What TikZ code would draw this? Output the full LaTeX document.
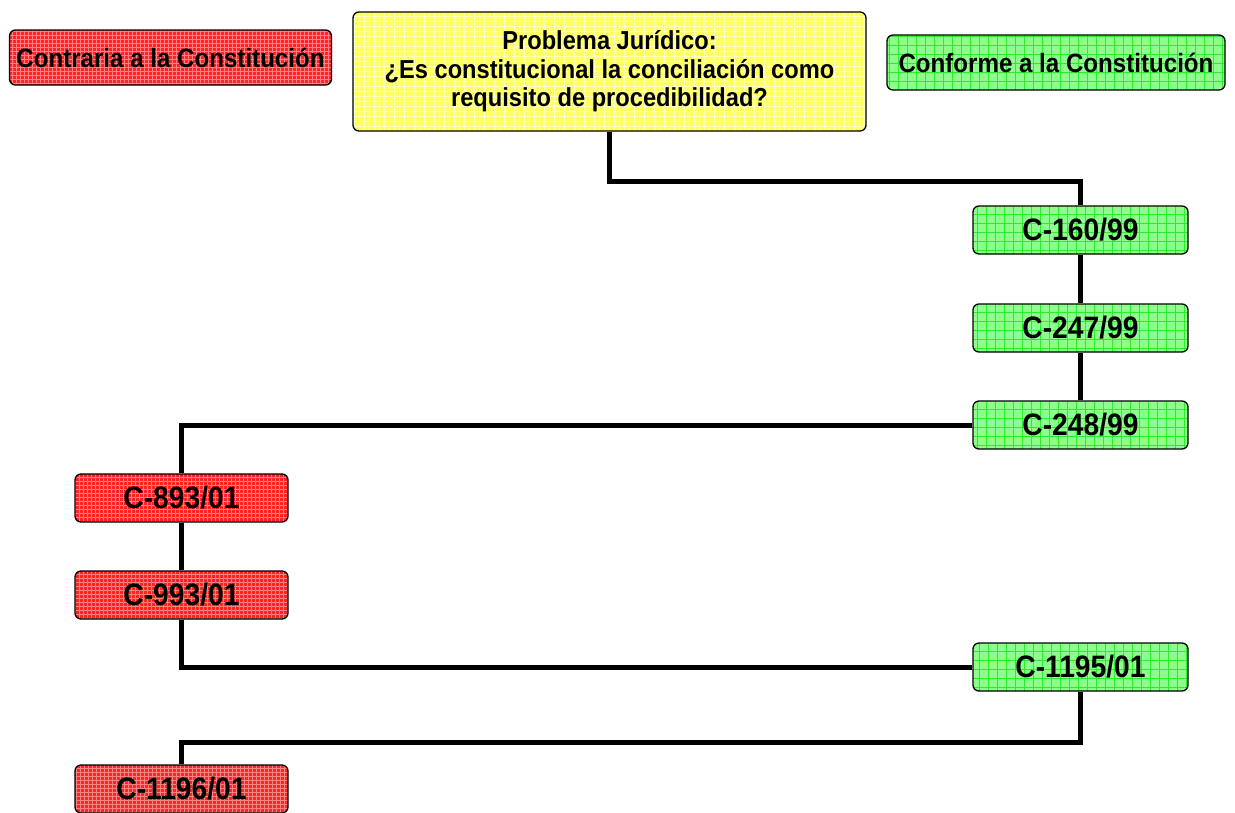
\documentclass[tikz,border=0pt]{standalone}
\usepackage{fontspec}
\setmainfont{Liberation Sans}
\newfontfamily\condfont[FakeStretch=0.91]{Liberation Sans}
\definecolor{redfill}{RGB}{255,35,35}
\definecolor{redgrid}{RGB}{255,130,130}
\definecolor{greenfill}{RGB}{140,255,140}
\definecolor{greengrid}{RGB}{45,235,45}
\definecolor{yellowfill}{RGB}{255,255,95}
\definecolor{yellowgrid}{RGB}{255,255,190}
\tikzset{
  box/.style={draw=black, line width=1.3pt, rounded corners=6pt, align=center, inner sep=0pt},
  gridfill/.style 2 args={path picture={\draw[#1, line width=#2] (path picture bounding box.south west) grid[step=5pt] (path picture bounding box.north east);}},
  redbox/.style={box, fill=redfill, path picture={\draw[redgrid, line width=0.7pt] ([xshift=-2pt,yshift=-2pt]path picture bounding box.south west) grid[step=4pt] (path picture bounding box.north east);}},
  greenbox/.style={box, fill=greenfill, path picture={\draw[greengrid, line width=0.8pt] ([xshift=-3pt,yshift=-3pt]path picture bounding box.south west) grid[step=9pt] (path picture bounding box.north east);}},
  yellowbox/.style={box, fill=yellowfill, path picture={\draw[yellowgrid, line width=0.8pt] ([xshift=-2pt,yshift=-2pt]path picture bounding box.south west) grid[step=5pt] (path picture bounding box.north east);}},
  casebox/.style={minimum height=48pt, font=\condfont\bfseries\fontsize{31}{34}\selectfont},
  legend/.style={minimum height=55pt, font=\condfont\bfseries\fontsize{26.5}{28}\selectfont},
  conn/.style={draw=black, line width=5pt},
}
\begin{document}
\begin{tikzpicture}[x=1pt,y=-1pt]
\useasboundingbox (0,0) rectangle (1235,812);
\node[redbox,legend,minimum width=322pt] (leg1) at (170.5,57.5) {Contraria a la Constitución};
\node[greenbox,legend,minimum width=338pt] (leg2) at (1056,62.5) {Conforme a la Constitución};
\node[yellowbox,minimum width=513pt,minimum height=119pt,font=\condfont\bfseries\fontsize{26}{28.5}\selectfont] (prob) at (609.5,71.5)
  {Problema Jurídico:\\¿Es constitucional la conciliación como\\requisito de procedibilidad?};
\node[greenbox,casebox,minimum width=215pt] (c160) at (1080.5,230) {C-160/99};
\node[greenbox,casebox,minimum width=215pt] (c247) at (1080.5,328) {C-247/99};
\node[greenbox,casebox,minimum width=215pt] (c248) at (1080.5,425) {C-248/99};
\node[redbox,casebox,minimum width=213pt] (c893) at (181.5,498) {C-893/01};
\node[redbox,casebox,minimum width=213pt] (c993) at (181.5,595) {C-993/01};
\node[greenbox,casebox,minimum width=215pt] (c1195) at (1080.5,667) {C-1195/01};
\node[redbox,casebox,minimum width=213pt] (c1196) at (181.5,789) {C-1196/01};
\coordinate (j1) at (prob.south |- 0,181.5);
\coordinate (j2) at (c1195.south |- 0,742);
\draw[conn] (prob.south) -- (j1) -| (c160.north);
\draw[conn] (c160.south) -- (c247.north);
\draw[conn] (c247.south) -- (c248.north);
\draw[conn] (c248.west) -| (c893.north);
\draw[conn] (c893.south) -- (c993.north);
\draw[conn] (c993.south) |- (c1195.west);
\draw[conn] (c1195.south) -- (j2) -| (c1196.north);
\end{tikzpicture}
\end{document}
